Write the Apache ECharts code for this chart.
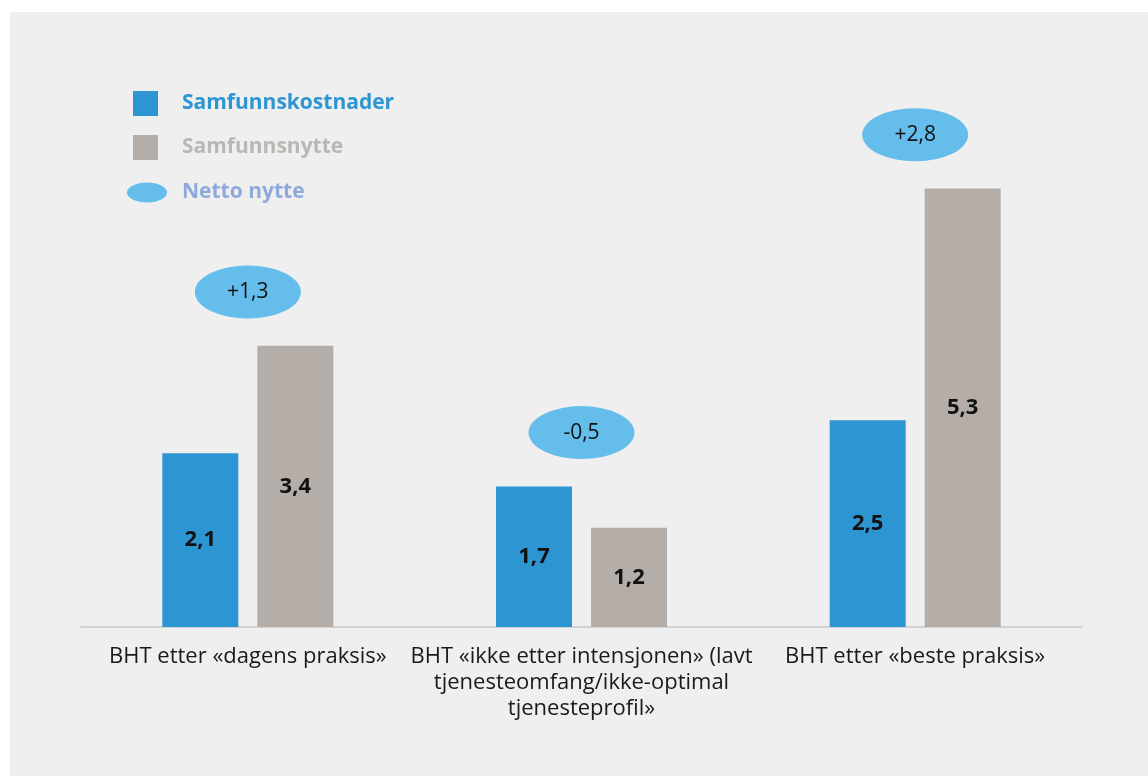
<!DOCTYPE html>
<html>
<head>
<meta charset="utf-8">
<script src="https://cdn.jsdelivr.net/npm/echarts@6/dist/echarts.min.js"></script>
<style>
html, body { margin:0; padding:0; background:#ffffff; }
#panel { position:absolute; left:10px; top:12px; width:1138px; height:764px; background:#efefef; }
#chart { position:absolute; left:0; top:0; width:1148px; height:776px; }
</style>
</head>
<body>
<div id="panel"></div>
<div id="chart"></div>
<script>
const categories = [
  'BHT etter «dagens praksis»',
  'BHT «ikke etter intensjonen» (lavt\ntjenesteomfang/ikke-optimal\ntjenesteprofil»',
  'BHT etter «beste praksis»'
];
const samfunnskostnader = [2.1, 1.7, 2.5];
const samfunnsnytte = [3.4, 1.2, 5.3];
const nettoNytte = [1.3, -0.5, 2.8];

const fmt = v => v.toFixed(1).replace('.', ',');
const ellipse = 'path://M0,25 A50,25 0 1,1 100,25 A50,25 0 1,1 0,25 Z';
const bubbleLift = 0.65;
const bubbleData = categories.map((c, i) => ({
  value: [i, Math.max(samfunnskostnader[i], samfunnsnytte[i]) + bubbleLift],
  netto: nettoNytte[i]
}));

const FONT = '"Open Sans", "Noto Sans", sans-serif';
const chart = echarts.init(document.getElementById('chart'), null, { renderer: 'canvas' });
chart.setOption({
  backgroundColor: 'transparent',
  animation: false,
  textStyle: { fontFamily: FONT },
  grid: { left: 81, right: 66, top: 48, bottom: 149, containLabel: false },
  legend: [
    { data: ['Samfunnskostnader'], left: 133, top: 91, padding: 0, itemWidth: 25, itemHeight: 25, icon: 'rect',
      textStyle: { color: '#2e95d3', fontSize: 21, fontWeight: 'bold', fontFamily: FONT, padding: [0,0,0,19] }, selectedMode: false },
    { data: ['Samfunnsnytte'], left: 133, top: 135, padding: 0, itemWidth: 25, itemHeight: 25, icon: 'rect',
      textStyle: { color: '#bab6b3', fontSize: 21, fontWeight: 'bold', fontFamily: FONT, padding: [0,0,0,19] }, selectedMode: false },
    { data: ['Netto nytte'], left: 127, top: 182, padding: 0, itemWidth: 40, itemHeight: 20, icon: ellipse,
      textStyle: { color: '#8eaadc', fontSize: 21, fontWeight: 'bold', fontFamily: FONT, padding: [0,0,0,10] }, selectedMode: false }
  ],
  xAxis: {
    type: 'category',
    data: categories,
    axisLine: { lineStyle: { color: '#c9c9c9', width: 1.5 } },
    axisTick: { length: 6, lineStyle: { color: '#c9c9c9', width: 1.5 } },
    axisLabel: { interval: 0, color: '#1a1a1a', fontSize: 22, lineHeight: 26, margin: 17, fontFamily: FONT }
  },
  yAxis: { type: 'value', min: 0, max: 7, show: false, splitLine: { show: false } },
  series: [
    {
      name: 'Samfunnskostnader', type: 'bar', data: samfunnskostnader,
      barWidth: 76, barGap: '25%',
      itemStyle: { color: '#2e95d3' },
      label: { show: true, position: 'inside', color: '#111', fontSize: 22, fontWeight: 'bold', fontFamily: FONT,
        formatter: p => fmt(p.value) }
    },
    {
      name: 'Samfunnsnytte', type: 'bar', data: samfunnsnytte,
      barWidth: 76,
      itemStyle: { color: '#b5ada8' },
      label: { show: true, position: 'inside', color: '#111', fontSize: 22, fontWeight: 'bold', fontFamily: FONT,
        formatter: p => fmt(p.value) }
    },
    {
      name: 'Netto nytte', type: 'scatter', data: bubbleData,
      symbol: ellipse, symbolSize: [106, 53],
      itemStyle: { color: '#64bdea', opacity: 1 },
      label: { show: true, position: 'inside', color: '#111', fontSize: 21, fontFamily: FONT,
        formatter: p => (p.data.netto > 0 ? '+' : '') + fmt(p.data.netto) },
      z: 3
    }
  ]
});
</script>
</body>
</html>
